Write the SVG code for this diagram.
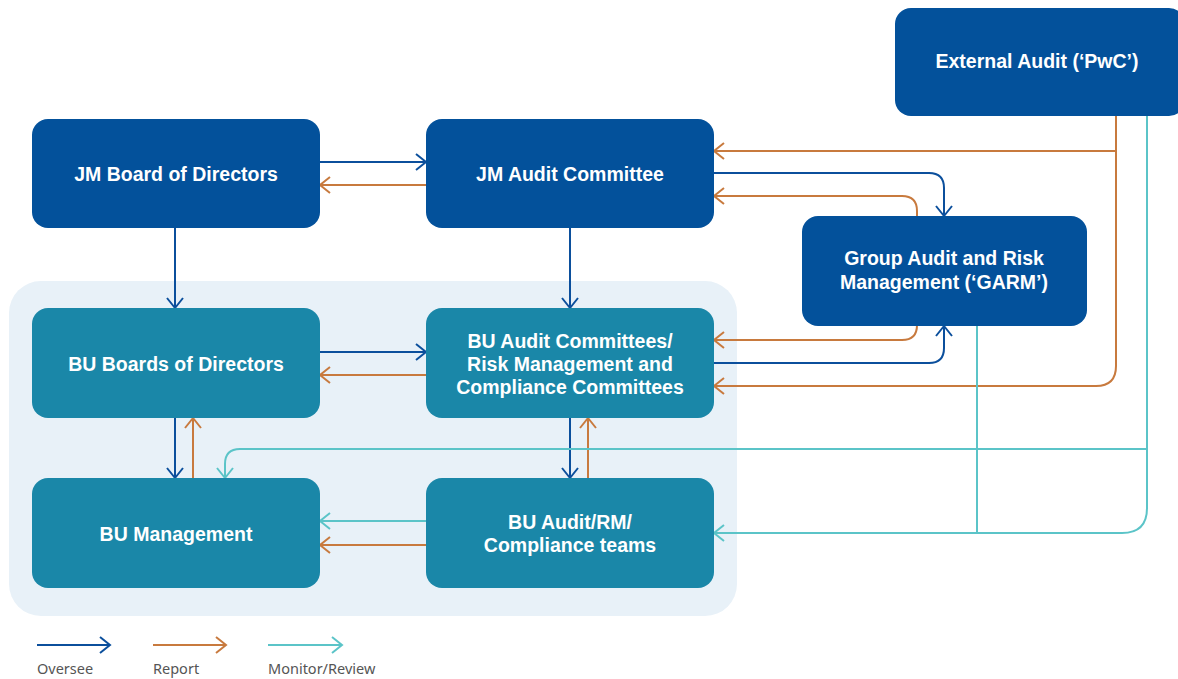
<svg xmlns="http://www.w3.org/2000/svg" width="1178" height="679" viewBox="0 0 1178 679">
<style>
.dk{fill:#03519b}
.tl{fill:#1a87a8}
.t{fill:#fff;font-family:"Liberation Sans",Arial,sans-serif;font-weight:bold;font-size:19.5px;text-anchor:middle}
.lg{fill:#555;font-family:"Noto Sans",sans-serif;font-size:14.5px}
.b{fill:none;stroke:#0b4f9c;stroke-width:2}
.o{fill:none;stroke:#c87a3e;stroke-width:2}
.c{fill:none;stroke:#5bc4c8;stroke-width:2}
.b.a{marker-end:url(#mb)}
.o.a{marker-end:url(#mo)}
.c.a{marker-end:url(#mc)}
</style>
<defs>
<marker id="mb" markerUnits="userSpaceOnUse" markerWidth="14" markerHeight="20" viewBox="0 0 14 20" refX="12" refY="10" orient="auto"><path d="M2,2 L12,10 L2,18" fill="none" stroke="#0b4f9c" stroke-width="2"/></marker>
<marker id="mo" markerUnits="userSpaceOnUse" markerWidth="14" markerHeight="20" viewBox="0 0 14 20" refX="12" refY="10" orient="auto"><path d="M2,2 L12,10 L2,18" fill="none" stroke="#c87a3e" stroke-width="2"/></marker>
<marker id="mc" markerUnits="userSpaceOnUse" markerWidth="14" markerHeight="20" viewBox="0 0 14 20" refX="12" refY="10" orient="auto"><path d="M2,2 L12,10 L2,18" fill="none" stroke="#5bc4c8" stroke-width="2"/></marker>
</defs>
<rect x="9" y="281" width="728" height="335" rx="32" fill="#e8f1f8"/>
<g id="connectors">
<path class="b a" d="M320,162 H426"/>
<path class="b a" d="M175,228 V308"/>
<path class="b a" d="M570,228 V308"/>
<path class="b a" d="M320,352 H426"/>
<path class="b a" d="M175,418 V478"/>
<path class="b a" d="M570,418 V478"/>
<path class="b a" d="M714,173 H929 Q944,173 944,188 V216"/>
<path class="b a" d="M714,363 H929 Q944,363 944,348 V326"/>
<path class="o a" d="M426,185 H320"/>
<path class="o a" d="M426,375 H320"/>
<path class="o a" d="M193,478 V418"/>
<path class="o a" d="M588,478 V418"/>
<path class="o a" d="M426,545 H320"/>
<path class="o a" d="M1116,151 H714"/>
<path class="o a" d="M1116,116 V366 Q1116,386 1096,386 H714"/>
<path class="o a" d="M917,216 V211 Q917,196 902,196 H714"/>
<path class="o a" d="M917,326 V325 Q917,340 902,340 H714"/>
<path class="c a" d="M426,521 H320"/>
<path class="c a" d="M1147,116 V508 Q1147,533 1122,533 H714"/>
<path class="c" d="M977,326 V533"/>
<path class="c a" d="M1147,449 H240 Q225,449 225,464 V478"/>
</g>
<g id="ext"><rect class="dk" x="895" y="8" width="290" height="108" rx="16"/><text class="t" x="1037" y="68">External Audit (‘PwC’)</text></g>
<g id="board"><rect class="dk" x="32" y="119" width="288" height="109" rx="16"/><text class="t" x="176" y="181">JM Board of Directors</text></g>
<g id="ac"><rect class="dk" x="426" y="119" width="288" height="109" rx="16"/><text class="t" x="570" y="181">JM Audit Committee</text></g>
<g id="garm"><rect class="dk" x="802" y="216" width="285" height="110" rx="16"/><text class="t" x="944" y="265">Group Audit and Risk</text><text class="t" x="944" y="289">Management (‘GARM’)</text></g>
<g id="buboard"><rect class="tl" x="32" y="308" width="288" height="110" rx="16"/><text class="t" x="176" y="371">BU Boards of Directors</text></g>
<g id="buac"><rect class="tl" x="426" y="308" width="288" height="110" rx="16"/><text class="t" x="570" y="348">BU Audit Committees/</text><text class="t" x="570" y="371">Risk Management and</text><text class="t" x="570" y="394">Compliance Committees</text></g>
<g id="bumgmt"><rect class="tl" x="32" y="478" width="288" height="110" rx="16"/><text class="t" x="176" y="541">BU Management</text></g>
<g id="buteams"><rect class="tl" x="426" y="478" width="288" height="110" rx="16"/><text class="t" x="570" y="529">BU Audit/RM/</text><text class="t" x="570" y="552">Compliance teams</text></g>
<g id="legend">
<path class="b a" d="M37,645 H110"/>
<path class="o a" d="M153,645 H226"/>
<path class="c a" d="M268,645 H342"/>
<text class="lg" x="37" y="674">Oversee</text>
<text class="lg" x="153" y="674">Report</text>
<text class="lg" x="268" y="674">Monitor/Review</text>
</g>
</svg>
